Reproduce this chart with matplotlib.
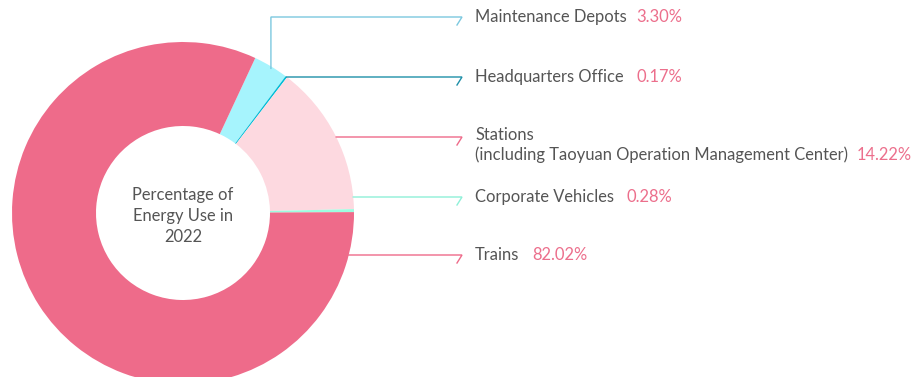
import numpy as np
import matplotlib
matplotlib.use("Agg")
import matplotlib.pyplot as plt

# energy use shares, clockwise from the top of the ring
categories = ["Maintenance Depots", "Headquarters Office", "Stations",
              "Corporate Vehicles", "Trains"]
shares = [3.30, 0.17, 14.22, 0.28, 82.02]
share_labels = ["3.30%", "0.17%", "14.22%", "0.28%", "82.02%"]
center_title = "Percentage of\nEnergy Use in\n2022"
stations_note = "(including Taoyuan Operation Management Center)"

W, H = 922, 377
fill_colors = ["#a6f4fd", "#00bcd6", "#fdd9e0", "#9cfde0", "#ee6b8a"]
line_colors = ["#7cc8df", "#1e8fa8", "#ee6b8a", "#8ef0d8", "#ee6b8a"]
text_color = "#555555"
pct_color = "#ec6f8c"

cx, cy = 183, 213          # ring centre, pixels from top-left
r_out, r_in = 171, 87
start = 25                 # degrees clockwise from 12 o'clock
label_rows = [17, 77, 135, 197, 255]
line_rows = [17, 77, 137, 197, 255]
line_end = 462
text_x = 475
fs = 11.9

plt.rcParams["font.family"] = ["Lato", "DejaVu Sans"]
fig = plt.figure(figsize=(W / 100, H / 100), dpi=100)
ax = fig.add_axes([0, 0, 1, 1])


def fy(y):
    return H - y


ax.pie(shares, colors=fill_colors, startangle=90 - start, counterclock=False,
       radius=r_out, center=(cx, fy(cy)),
       wedgeprops=dict(width=r_out - r_in, linewidth=0))
ax.set_xlim(0, W)
ax.set_ylim(0, H)
ax.set_aspect("equal")
ax.axis("off")

ax.text(cx, fy(216), center_title, ha="center", va="center", fontsize=fs,
        color=text_color, linespacing=1.4)

# leader lines
bounds = start + 360 * np.concatenate([[0], np.cumsum(shares)]) / sum(shares)
for i, row in enumerate(line_rows):
    if i == 0:
        mid = np.radians((bounds[0] + bounds[1]) / 2)
        x0 = cx + r_out * np.sin(mid)
        y0 = cy - r_out * np.cos(mid)
        xs = [x0, x0, line_end, line_end - 5]
        ys = [y0 + 2, row, row, row + 8]
    else:
        dy = row - cy
        x0 = cx + np.sqrt(r_out ** 2 - dy ** 2)
        xs = [x0, line_end, line_end - 5]
        ys = [row, row, row + 8]
    ax.plot(xs, [fy(v) for v in ys], color=line_colors[i], lw=1.0,
            solid_joinstyle="miter")

# labels and percentages
fig.canvas.draw()
renderer = fig.canvas.get_renderer()
gaps = [9, 13, 9, 12, 13]
for i, (name, pct) in enumerate(zip(categories, share_labels)):
    row = label_rows[i]
    if name == "Stations":
        ax.text(text_x, fy(row), name, ha="left", va="center",
                fontsize=fs, color=text_color)
        row = row + 20
        t = ax.text(text_x, fy(row), stations_note, ha="left", va="center",
                    fontsize=fs, color=text_color)
    else:
        t = ax.text(text_x, fy(row), name, ha="left", va="center",
                    fontsize=fs, color=text_color)
    bb = t.get_window_extent(renderer)
    ax.text(bb.x1 + gaps[i], fy(row), pct, ha="left", va="center",
            fontsize=fs, color=pct_color)

fig.savefig("out.png", dpi=100, facecolor="white")
